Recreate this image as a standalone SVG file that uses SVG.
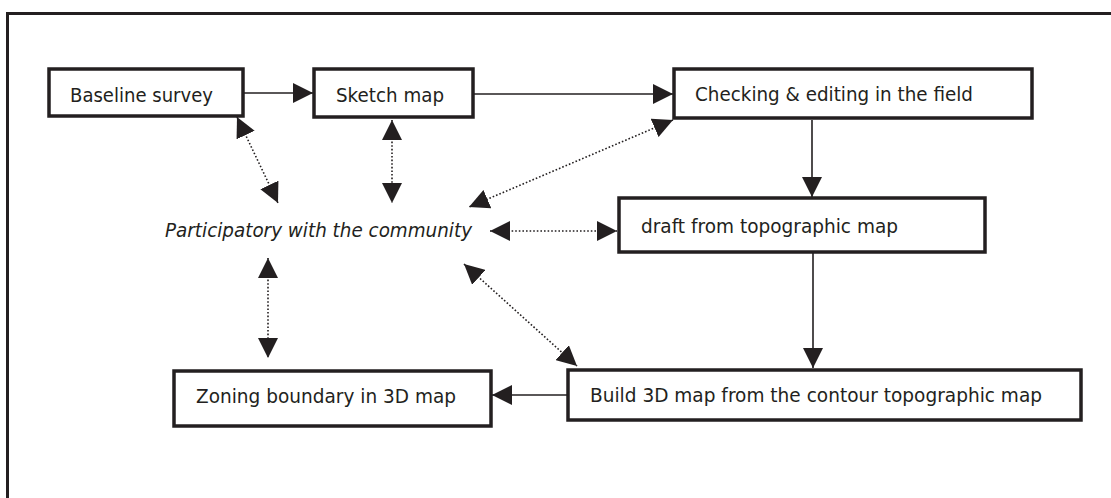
<svg xmlns="http://www.w3.org/2000/svg" width="1111" height="498" viewBox="0 0 1111 498">
<defs>
<style>
.box{fill:#fff;stroke:#231f20;stroke-width:3.5}
.t{font-family:"DejaVu Sans","Liberation Sans",sans-serif;font-size:20px;fill:#231f20}
.it{font-style:italic}
.c{stroke:#231f20;stroke-width:1.6;fill:none}
.d{stroke:#231f20;stroke-width:1.6;fill:none;stroke-dasharray:1.6 2}
</style>
<marker id="ah" markerUnits="userSpaceOnUse" markerWidth="20" markerHeight="20" refX="19" refY="9.5" orient="auto-start-reverse" viewBox="0 0 19 19">
<path d="M0,0 L19,9.5 L0,19 Z" fill="#231f20"/>
</marker>
</defs>
<rect width="1111" height="498" fill="#fff"/>
<rect x="7.5" y="13.5" width="1200" height="600" fill="none" stroke="#231f20" stroke-width="3"/>
<g id="connectors">
<line class="c" x1="244" y1="93" x2="313" y2="93" marker-end="url(#ah)"/>
<line class="c" x1="474" y1="94" x2="673" y2="94" marker-end="url(#ah)"/>
<line class="c" x1="812" y1="120" x2="812" y2="197" marker-end="url(#ah)"/>
<line class="c" x1="813" y1="253" x2="813" y2="368" marker-end="url(#ah)"/>
<line class="c" x1="567" y1="395" x2="492" y2="395" marker-end="url(#ah)"/>
<line class="d" x1="237" y1="117" x2="278" y2="203" marker-start="url(#ah)" marker-end="url(#ah)"/>
<line class="d" x1="392" y1="120" x2="392" y2="203" marker-start="url(#ah)" marker-end="url(#ah)"/>
<line class="d" x1="673" y1="120" x2="469" y2="207" marker-start="url(#ah)" marker-end="url(#ah)"/>
<line class="d" x1="490" y1="231" x2="617" y2="231" marker-start="url(#ah)" marker-end="url(#ah)"/>
<line class="d" x1="268" y1="258" x2="268" y2="358" marker-start="url(#ah)" marker-end="url(#ah)"/>
<line class="d" x1="464" y1="264" x2="577" y2="366" marker-start="url(#ah)" marker-end="url(#ah)"/>
</g>
<g id="baseline">
<rect class="box" x="49" y="69" width="194" height="47"/>
<text class="t" x="70" y="102" textLength="143" lengthAdjust="spacingAndGlyphs">Baseline survey</text>
</g>
<g id="sketch">
<rect class="box" x="314" y="69" width="159" height="48"/>
<text class="t" x="336" y="102" textLength="108" lengthAdjust="spacingAndGlyphs">Sketch map</text>
</g>
<g id="checking">
<rect class="box" x="674" y="69" width="358" height="49"/>
<text class="t" x="695" y="101" textLength="278" lengthAdjust="spacingAndGlyphs">Checking &amp; editing in the field</text>
</g>
<g id="draft">
<rect class="box" x="619" y="198" width="366" height="54"/>
<text class="t" x="641" y="233" textLength="257" lengthAdjust="spacingAndGlyphs">draft from topographic map</text>
</g>
<g id="participatory">
<text class="t it" x="165" y="237" textLength="307" lengthAdjust="spacingAndGlyphs">Participatory with the community</text>
</g>
<g id="zoning">
<rect class="box" x="174" y="371" width="317" height="55"/>
<text class="t" x="196" y="403" textLength="260" lengthAdjust="spacingAndGlyphs">Zoning boundary in 3D map</text>
</g>
<g id="build">
<rect class="box" x="568" y="370" width="513" height="50"/>
<text class="t" x="590" y="402" textLength="452" lengthAdjust="spacingAndGlyphs">Build 3D map from the contour topographic map</text>
</g>
</svg>
